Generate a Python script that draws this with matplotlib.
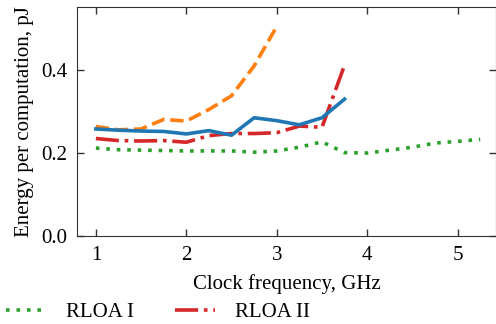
import numpy as np
import matplotlib
matplotlib.use("Agg")
from matplotlib import pyplot as plt

plt.rcParams['font.family'] = ['Liberation Serif', 'DejaVu Serif']
plt.rcParams['font.size'] = 15
plt.rcParams['mathtext.fontset'] = 'stix'

# clock frequency, GHz
freq_short = [1.0, 1.25, 1.5, 1.75, 2.0, 2.25, 2.5, 2.75, 3.0, 3.25, 3.5, 3.75]
freq_orange = [1.0, 1.25, 1.5, 1.75, 2.0, 2.25, 2.5, 2.75, 3.0]
freq_long = [1.0, 1.25, 1.5, 1.75, 2.0, 2.25, 2.5, 2.75, 3.0, 3.25, 3.5,
             3.75, 4.0, 4.25, 4.5, 4.75, 5.0, 5.25]

# energy per computation, pJ
rloa_1 = [0.212, 0.208, 0.207, 0.206, 0.205, 0.205, 0.205, 0.202, 0.205,
          0.214, 0.227, 0.201, 0.200, 0.207, 0.214, 0.224, 0.228, 0.233]
rloa_2 = [0.235, 0.230, 0.229, 0.230, 0.226, 0.242, 0.247, 0.247, 0.249,
          0.265, 0.262, 0.412]
blue_vals = [0.258, 0.255, 0.253, 0.252, 0.246, 0.254, 0.243, 0.285, 0.278,
             0.268, 0.285, 0.330]
orange_vals = [0.264, 0.256, 0.258, 0.281, 0.277, 0.305, 0.338, 0.410, 0.505]

fig = plt.figure(figsize=(4.96, 3.24), dpi=100)
ax = fig.add_axes([0.155, 0.2716, 0.846, 0.7068])

lw = 2.6
ax.plot(freq_long, rloa_1, color='#2ca02c', lw=lw, linestyle=(0, (1, 1.9)),
        label='RLOA I')
ax.plot(freq_short, rloa_2, color='#d62728', lw=lw,
        linestyle=(0, (6.4, 1.6, 1, 1.6)), label='RLOA II')
ax.plot(freq_orange, orange_vals, color='#ff7f0e', lw=lw,
        linestyle=(0, (3.7, 1.6)))
ax.plot(freq_short, blue_vals, color='#1f77b4', lw=lw, linestyle='-')

ax.set_xlim(0.79, 5.43)
ax.set_ylim(0, 0.552)
ax.set_xticks([1, 2, 3, 4, 5])
ax.set_yticks([0.0, 0.2, 0.4])
ax.tick_params(direction='in', top=True, right=True, length=5, width=1,
               colors='#333333', labelcolor='black', pad=7)
for s in ax.spines.values():
    s.set_color('#333333')

ax.set_xlabel('Clock frequency, GHz', labelpad=7)
ax.set_ylabel('Energy per computation, pJ', labelpad=5)

fig.legend(loc='center left', bbox_to_anchor=(-0.008, 0.035), ncol=2,
           frameon=False, handlelength=1.9, handletextpad=0.95,
           columnspacing=2.0, borderpad=0)

fig.savefig('out.png', dpi=100)
